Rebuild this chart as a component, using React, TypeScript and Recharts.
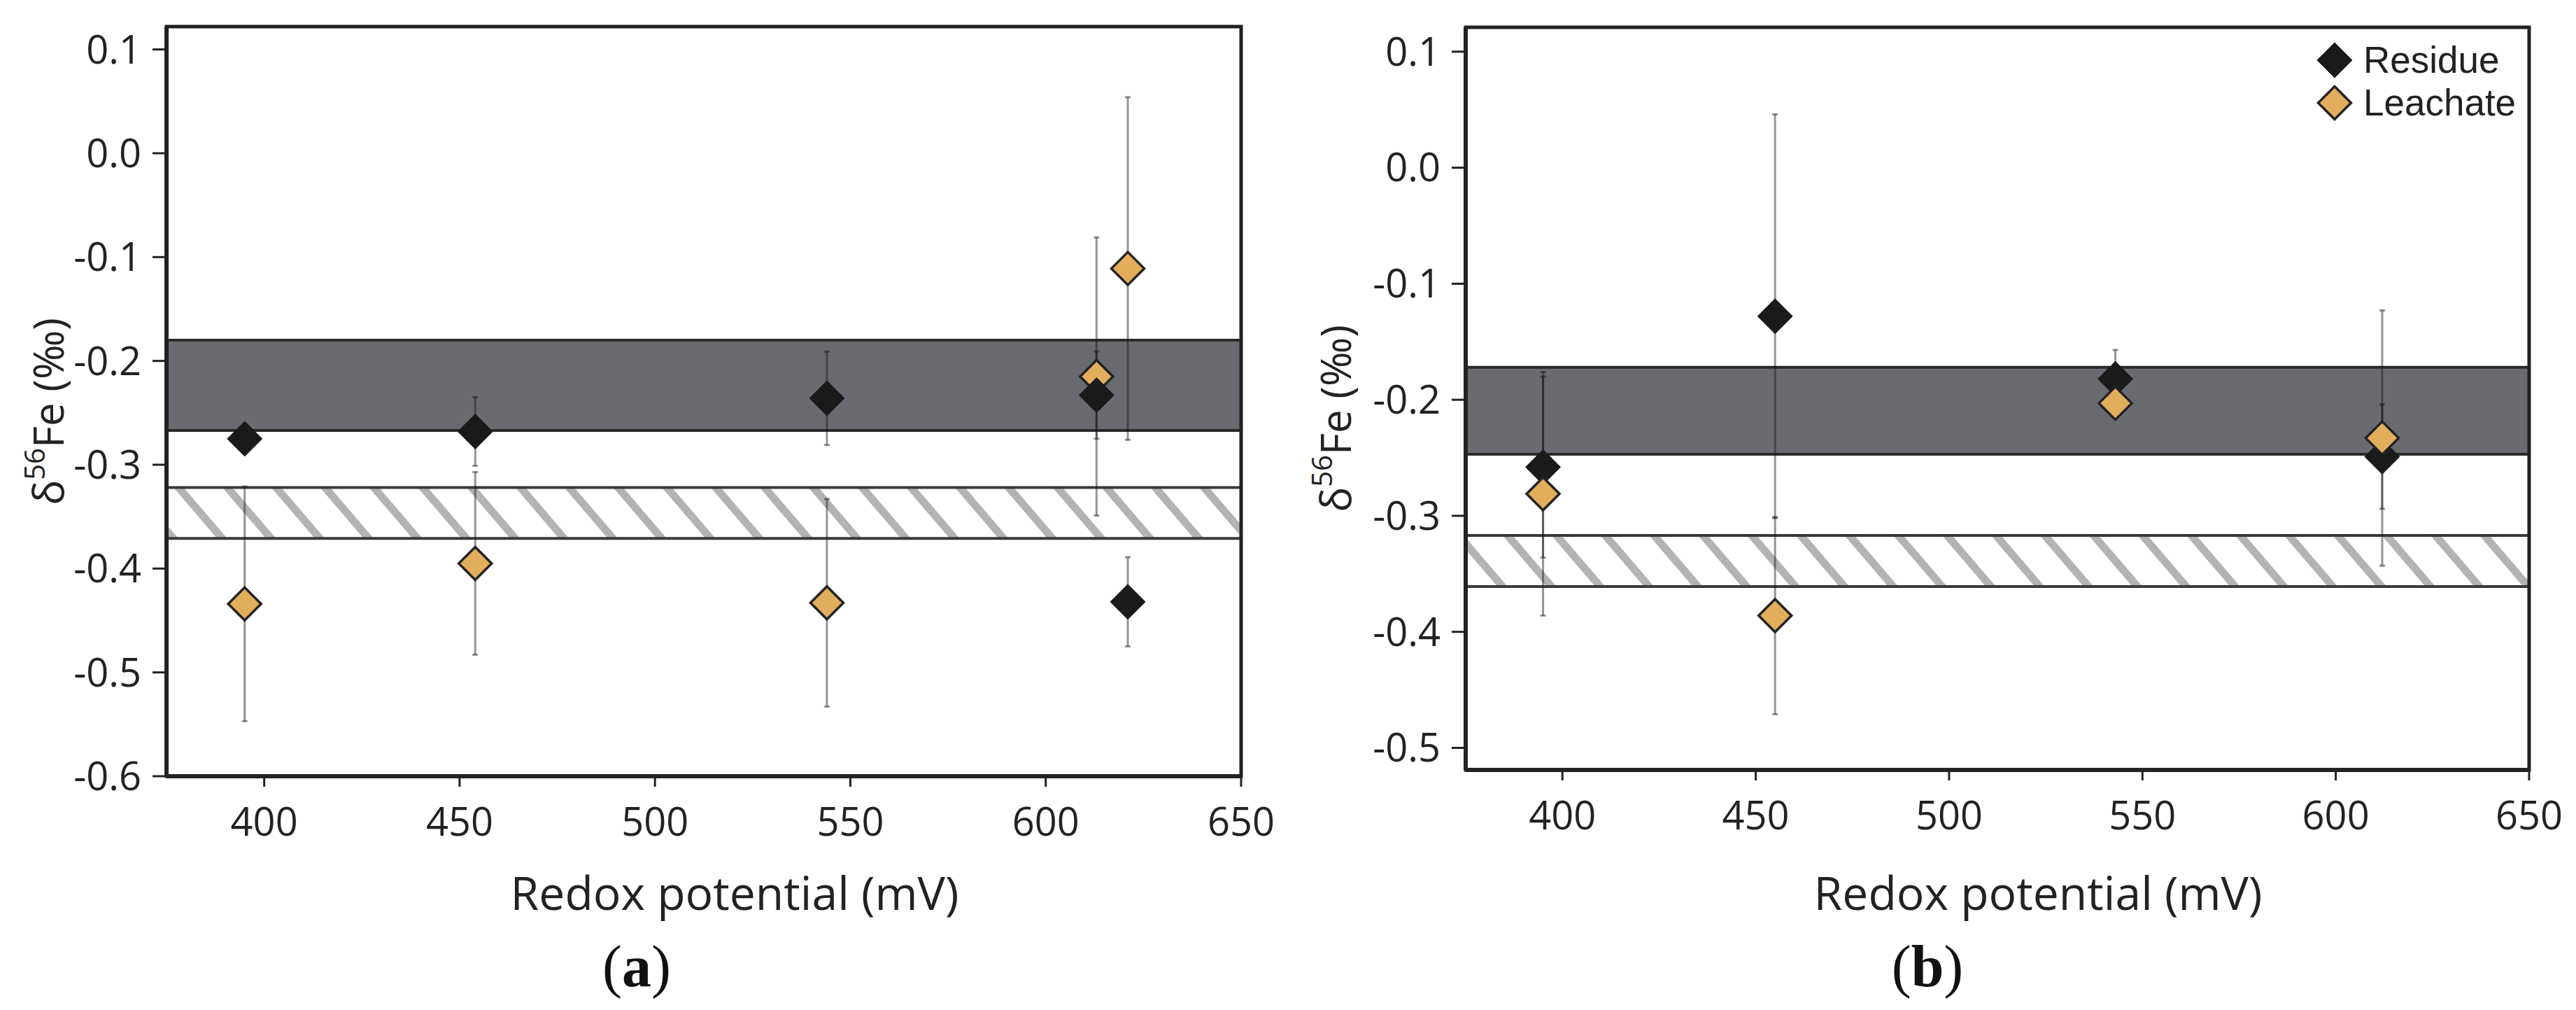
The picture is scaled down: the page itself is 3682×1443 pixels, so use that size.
import React from "react";
import { ScatterChart, Scatter, XAxis, YAxis, ErrorBar, ReferenceArea, Legend, Label } from "recharts";

const X_TICKS = [400, 450, 500, 550, 600, 650];
const X_DOMAIN = [375, 650];

// panel (a)
const A_Y_TICKS = [0.1, 0, -0.1, -0.2, -0.3, -0.4, -0.5, -0.6];
const A_Y_DOMAIN = [-0.6, 0.122];
const A_RESIDUE_X = [395, 454, 544, 613, 621];
const A_RESIDUE_Y = [-0.275, -0.268, -0.236, -0.233, -0.432];
const A_RESIDUE_ERR = [0.01, 0.033, 0.045, 0.042, 0.043];
const A_LEACHATE_X = [395, 454, 544, 613, 621];
const A_LEACHATE_Y = [-0.434, -0.395, -0.433, -0.215, -0.111];
const A_LEACHATE_ERR = [0.113, 0.088, 0.1, 0.134, 0.165];
const A_BAND = [-0.267, -0.18];
const A_HATCH = [-0.371, -0.322];

// panel (b)
const B_Y_TICKS = [0.1, 0, -0.1, -0.2, -0.3, -0.4, -0.5];
const B_Y_DOMAIN = [-0.519, 0.121];
const B_RESIDUE_X = [395, 455, 543, 612];
const B_RESIDUE_Y = [-0.258, -0.128, -0.182, -0.249];
const B_RESIDUE_ERR = [0.078, 0.174, 0.025, 0.045];
const B_LEACHATE_X = [395, 455, 543, 612];
const B_LEACHATE_Y = [-0.281, -0.386, -0.203, -0.233];
const B_LEACHATE_ERR = [0.105, 0.085, 0.01, 0.11];
const B_BAND = [-0.247, -0.172];
const B_HATCH = [-0.361, -0.317];

const LEGEND_ORDER = ["Residue", "Leachate"];

const FONT = "'Open Sans', 'Noto Sans', sans-serif";
const INK = "#222";

const STYLES: Record<string, { fill: string; stroke: string; sw: number; r: number }> = {
  Residue: { fill: "#1a1a1a", stroke: "#1a1a1a", sw: 1, r: 25 },
  Leachate: { fill: "#e2ae5c", stroke: "#222", sw: 3.5, r: 23.5 },
};

const rows = (xs: number[], ys: number[], errs: number[]) =>
  xs.map((x, i) => ({ x, y: ys[i], err: errs[i] }));

const diamondPath = (cx: number, cy: number, r: number) =>
  `M${cx},${cy - r}L${cx + r},${cy}L${cx},${cy + r}L${cx - r},${cy}Z`;

const makeShape = (name: string) => (props: any) => {
  const s = STYLES[name];
  return <path d={diamondPath(props.cx, props.cy, s.r)} fill={s.fill} stroke={s.stroke} strokeWidth={s.sw} />;
};

const LegendContent = (props: any) => {
  const items = [...(props.payload || [])].sort(
    (a: any, b: any) => LEGEND_ORDER.indexOf(a.value) - LEGEND_ORDER.indexOf(b.value)
  );
  return (
    <div style={{ display: "flex", flexDirection: "column" }}>
      {items.map((p: any) => {
        const s = STYLES[p.value];
        return (
          <div key={p.value} style={{ display: "flex", alignItems: "center", height: 61 }}>
            <svg width={56} height={56}>
              <path d={diamondPath(28, 28, s.r)} fill={s.fill} stroke={s.stroke} strokeWidth={s.sw} />
            </svg>
            <span
              style={{
                fontFamily: "'Liberation Sans', Arial, sans-serif",
                fontSize: 53,
                lineHeight: "61px",
                color: INK,
                marginLeft: 13,
              }}
            >
              {p.value}
            </span>
          </div>
        );
      })}
    </div>
  );
};

interface PanelProps {
  id: string;
  letter: string;
  width: number;
  margin: { top: number; right: number; left: number; bottom: number };
  xAxisHeight: number;
  yDomain: number[];
  yTicks: number[];
  series: { name: string; data: { x: number; y: number; err: number }[] }[];
  band: number[];
  hatch: number[];
  yTitle: [number, number];
  xTitleX: number;
  letterX: number;
  legend?: boolean;
}

const Panel = (p: PanelProps) => (
  <ScatterChart width={p.width} height={1443} margin={p.margin}>
    <defs>
      <pattern id={p.id} patternUnits="userSpaceOnUse" width={53} height={53} patternTransform="rotate(-40.6)">
        <rect x={0} y={0} width={53} height={53} fill="#fff" />
        <rect x={0} y={0} width={11} height={53} fill="#b3b3b3" />
      </pattern>
    </defs>
    <XAxis
      type="number"
      dataKey="x"
      domain={X_DOMAIN}
      ticks={X_TICKS}
      interval={0}
      allowDataOverflow
      height={p.xAxisHeight}
      tickSize={15}
      tickMargin={30}
      axisLine={{ stroke: INK, strokeWidth: 6 }}
      tickLine={{ stroke: INK, strokeWidth: 3 }}
      tick={{ fontFamily: FONT, fontSize: 56, fill: INK }}
    >
      <Label
        content={() => (
          <g>
            <text x={p.xTitleX} y={1300} textAnchor="middle" fontFamily={FONT} fontSize={66} fill={INK}>
              Redox potential (mV)
            </text>
            <text x={p.letterX} y={1409} textAnchor="middle" fontFamily="'Liberation Serif', serif" fontSize={84} fill="#111">
              (<tspan fontWeight="bold">{p.letter}</tspan>)
            </text>
          </g>
        )}
      />
    </XAxis>
    <YAxis
      type="number"
      dataKey="y"
      domain={p.yDomain}
      ticks={p.yTicks}
      interval={0}
      allowDataOverflow
      width={140}
      tickSize={20}
      tickMargin={16}
      tickFormatter={(v: number) => v.toFixed(1)}
      axisLine={{ stroke: INK, strokeWidth: 6 }}
      tickLine={{ stroke: INK, strokeWidth: 3 }}
      tick={{ fontFamily: FONT, fontSize: 56, fill: INK }}
    >
      <Label
        content={() => (
          <text
            x={p.yTitle[0]}
            y={p.yTitle[1]}
            transform={`rotate(-90 ${p.yTitle[0]} ${p.yTitle[1]})`}
            textAnchor="middle"
            dominantBaseline="central"
            fontFamily={FONT}
            fontSize={60}
            fill={INK}
          >
            δ<tspan dy={-20} fontSize={40}>56</tspan>
            <tspan dy={20}>Fe (‰)</tspan>
          </text>
        )}
      />
    </YAxis>
    <ReferenceArea y1={p.band[0]} y2={p.band[1]} fill="#6a6b70" fillOpacity={1} stroke="#2a2a2a" strokeWidth={4} />
    <ReferenceArea y1={p.hatch[0]} y2={p.hatch[1]} fill={`url(#${p.id})`} fillOpacity={1} stroke="#3a3a3a" strokeWidth={4} />
    <ReferenceArea
      x1={X_DOMAIN[0]}
      x2={X_DOMAIN[1]}
      y1={p.yDomain[0]}
      y2={p.yDomain[1]}
      fill="none"
      stroke={INK}
      strokeWidth={5}
    />
    {p.series.map((s) => (
      <Scatter key={s.name} name={s.name} data={s.data} fill={STYLES[s.name].fill} shape={makeShape(s.name)} isAnimationActive={false}>
        <ErrorBar dataKey="err" direction="y" width={4} stroke="rgba(20,20,20,0.45)" strokeWidth={3} isAnimationActive={false} />
      </Scatter>
    ))}
    {p.legend && (
      <Legend
        layout="vertical"
        align="center"
        verticalAlign="middle"
        content={LegendContent}
        wrapperStyle={{ left: 1468, top: 55, width: "auto", height: "auto" }}
      />
    )}
  </ScatterChart>
);

export default function App() {
  return (
    <div style={{ position: "absolute", left: 0, top: 0, width: 3682, height: 1443, background: "#fff" }}>
      <div style={{ position: "absolute", left: 0, top: 0 }}>
        <Panel
          id="hatchA"
          letter="a"
          width={1840}
          margin={{ top: 38, right: 66, left: 98, bottom: 0 }}
          xAxisHeight={334}
          yDomain={A_Y_DOMAIN}
          yTicks={A_Y_TICKS}
          series={[
            { name: "Leachate", data: rows(A_LEACHATE_X, A_LEACHATE_Y, A_LEACHATE_ERR) },
            { name: "Residue", data: rows(A_RESIDUE_X, A_RESIDUE_Y, A_RESIDUE_ERR) },
          ]}
          band={A_BAND}
          hatch={A_HATCH}
          yTitle={[68, 588]}
          xTitleX={1050}
          letterX={910}
        />
      </div>
      <div style={{ position: "absolute", left: 1841, top: 0 }}>
        <Panel
          id="hatchB"
          letter="b"
          width={1841}
          margin={{ top: 39, right: 67, left: 114, bottom: 0 }}
          xAxisHeight={343}
          yDomain={B_Y_DOMAIN}
          yTicks={B_Y_TICKS}
          series={[
            { name: "Residue", data: rows(B_RESIDUE_X, B_RESIDUE_Y, B_RESIDUE_ERR) },
            { name: "Leachate", data: rows(B_LEACHATE_X, B_LEACHATE_Y, B_LEACHATE_ERR) },
          ]}
          band={B_BAND}
          hatch={B_HATCH}
          yTitle={[67, 598]}
          xTitleX={1072}
          letterX={914}
          legend
        />
      </div>
    </div>
  );
}
